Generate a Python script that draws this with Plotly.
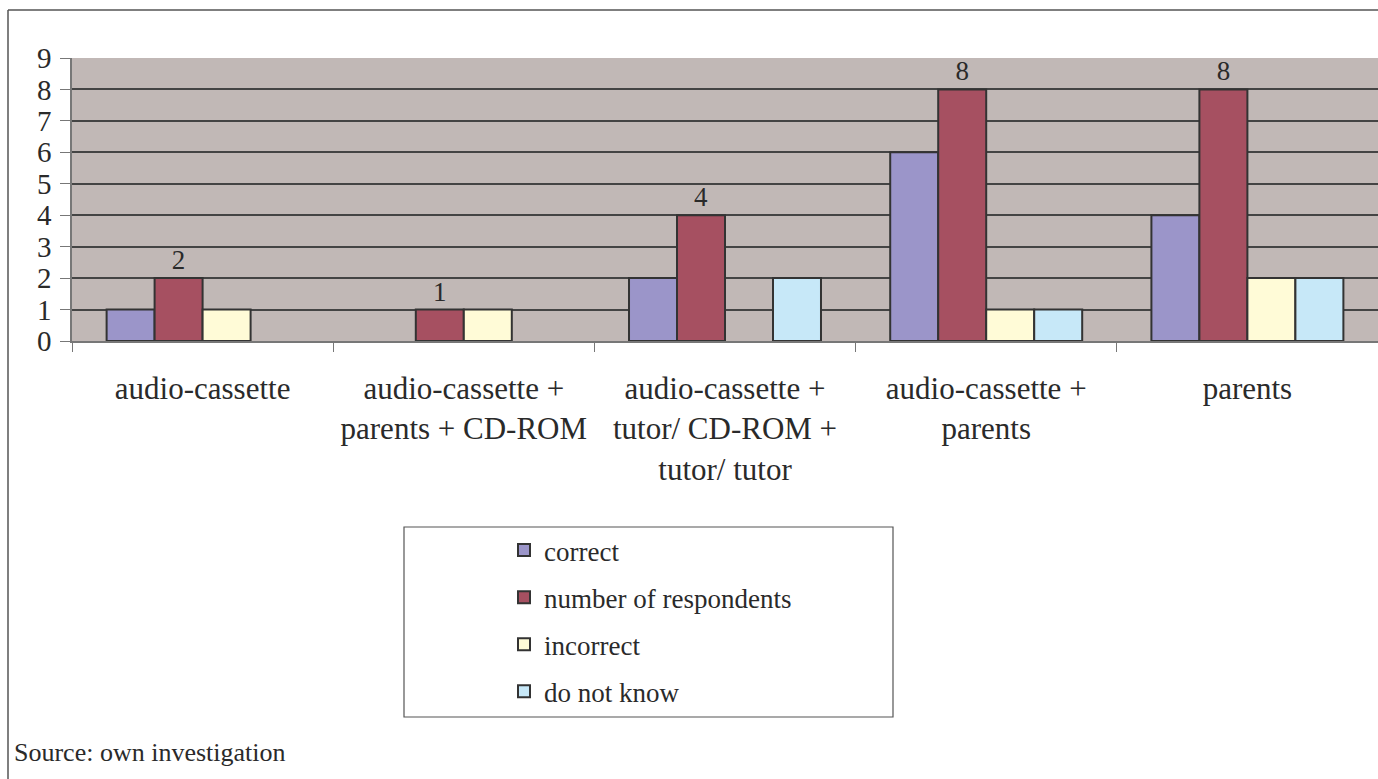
import plotly.graph_objects as go

categories = [
    "audio-cassette",
    "audio-cassette +<br>parents + CD-ROM",
    "audio-cassette +<br>tutor/ CD-ROM +<br>tutor/ tutor",
    "audio-cassette +<br>parents",
    "parents",
]
correct = [1, None, 2, 6, 4]
respondents = [2, 1, 4, 8, 8]
incorrect = [1, 1, None, 1, 2]
do_not_know = [None, None, 2, 1, 2]

series_names = ["correct", "number of respondents", "incorrect", "do not know"]
series_colors = ["#9B95C9", "#A65061", "#FFFBD7", "#C7E8F8"]
series_values = [correct, respondents, incorrect, do_not_know]

FONT = "Liberation Serif, Times New Roman, serif"
TXT = "#2a2a2a"

W, H = 1378, 779
L, R, T, B = 72, 0, 58, 438
pw, ph = W - L - R, H - T - B

def px(x):
    return (x - L) / pw

def py(y):
    return (H - B - y) / ph

fig = go.Figure()
for i, (name, vals, col) in enumerate(zip(series_names, series_values, series_colors)):
    kw = {}
    if name == "number of respondents":
        kw = dict(text=[str(v) for v in vals], textposition="outside",
                  textfont=dict(family=FONT, size=27, color=TXT), cliponaxis=False)
    fig.add_trace(go.Bar(
        x=categories, y=vals, name=name, legendgroup=str(i),
        marker=dict(color=col, line=dict(color="#333333", width=2)),
        **kw))

fig.update_layout(
    width=W, height=H,
    margin=dict(l=L, r=R, t=T, b=B),
    paper_bgcolor="white",
    plot_bgcolor="#C1B8B6",
    barmode="group",
    bargap=0.265,
    bargroupgap=0,
    font=dict(family=FONT, color=TXT),
    showlegend=True,
    legend=dict(
        x=px(504), y=py(526), xanchor="left", yanchor="top",
        bgcolor="rgba(0,0,0,0)", borderwidth=0,
        font=dict(family=FONT, size=27, color=TXT),
        traceorder="grouped", tracegroupgap=9,
    ),
    xaxis=dict(
        showgrid=False, showline=True, linecolor="#777777", linewidth=1.5,
        ticks="outside", tickson="boundaries", ticklen=9, tickcolor="#777777",
        tickfont=dict(family=FONT, size=31, color=TXT),
        ticklabelstandoff=19,
    ),
    yaxis=dict(
        range=[0, 9], dtick=1, showgrid=True, gridcolor="#444444", gridwidth=1.5,
        showline=True, linecolor="#777777", linewidth=1.5,
        ticks="outside", ticklen=10, tickcolor="#777777",
        tickfont=dict(family=FONT, size=29, color=TXT),
        ticklabelstandoff=3,
        zeroline=False,
    ),
    shapes=[
        dict(type="rect", xref="paper", yref="paper",
             x0=px(404), x1=px(893), y0=py(717), y1=py(527),
             line=dict(color="#555555", width=1.2), fillcolor="rgba(0,0,0,0)"),
        dict(type="line", xref="paper", yref="paper",
             x0=px(8), x1=px(1380), y0=py(10), y1=py(10),
             line=dict(color="#555555", width=1.5)),
        dict(type="line", xref="paper", yref="paper",
             x0=px(8), x1=px(8), y0=py(10), y1=py(780),
             line=dict(color="#555555", width=1.5)),
    ],
    annotations=[
        dict(text="Source: own investigation", xref="paper", yref="paper",
             x=px(12), y=py(752), xanchor="left", yanchor="middle",
             showarrow=False, font=dict(family=FONT, size=26, color=TXT)),
    ],
)

fig.write_html("out.html",
               config={"displayModeBar": False},
               post_script="document.body.style.margin='0';document.body.style.overflow='hidden';")
